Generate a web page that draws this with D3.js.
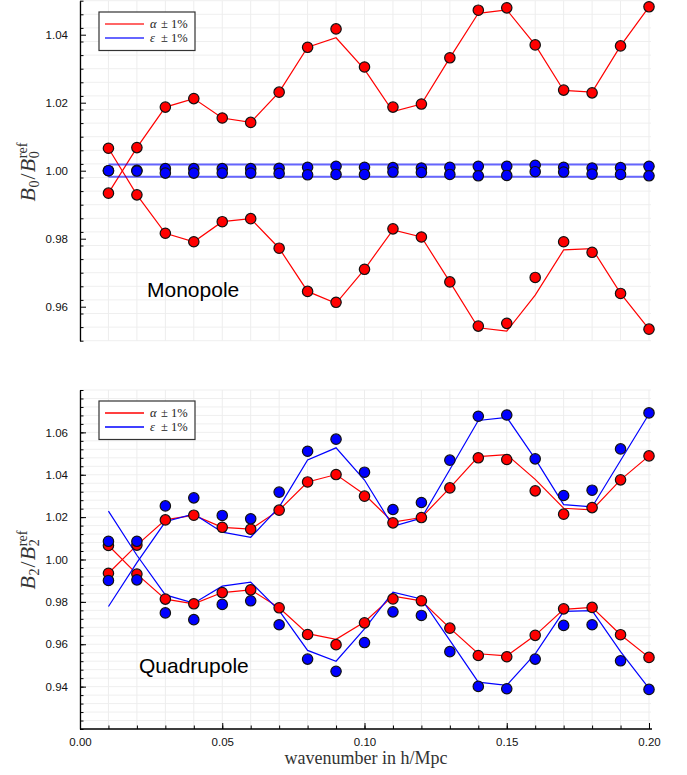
<!DOCTYPE html>
<html>
<head>
<meta charset="utf-8">
<script src="https://cdn.jsdelivr.net/npm/d3@7"></script>
<style>
  body { margin: 0; background: #fff; }
  .tick text { font-family: "Liberation Sans", Arial, sans-serif; font-size: 11.5px; fill: #111; }
  .axis path, .axis line { stroke: #000; }
</style>
</head>
<body>
<script>
// wavenumbers (h/Mpc)
var k = [0.01, 0.02, 0.03, 0.04, 0.05, 0.06, 0.07, 0.08, 0.09, 0.10,
         0.11, 0.12, 0.13, 0.14, 0.15, 0.16, 0.17, 0.18, 0.19, 0.20];

// monopole: alpha +/- 1% (points and model lines)
var monoAlphaUpPts  = [0.9934, 1.0068, 1.0187, 1.0212, 1.0155, 1.0142, 1.0231, 1.0363, 1.0417, 1.0305,
                       1.0187, 1.0196, 1.0332, 1.0472, 1.0479, 1.0370, 1.0237, 1.0229, 1.0367, 1.0482];
var monoAlphaUpLine = [0.9934, 1.0068, 1.0187, 1.0212, 1.0155, 1.0142, 1.0231, 1.0363, 1.0391, 1.0298,
                       1.0174, 1.0196, 1.0332, 1.0463, 1.0473, 1.0370, 1.0236, 1.0231, 1.0367, 1.0482];
var monoAlphaDnPts  = [1.0066, 0.9929, 0.9816, 0.9791, 0.9850, 0.9859, 0.9772, 0.9645, 0.9613, 0.9710,
                       0.9829, 0.9805, 0.9673, 0.9543, 0.9551, 0.9686, 0.9791, 0.9760, 0.9639, 0.9534];
var monoAlphaDnLine = [1.0066, 0.9929, 0.9816, 0.9791, 0.9850, 0.9859, 0.9772, 0.9645, 0.9610, 0.9710,
                       0.9826, 0.9805, 0.9673, 0.9538, 0.9528, 0.9634, 0.9767, 0.9771, 0.9639, 0.9534];
// monopole: epsilon +/- 1%
var monoEpsUpPts  = [1.0000, 1.0001, 1.0006, 1.0006, 1.0006, 1.0006, 1.0007, 1.0010, 1.0013, 1.0010,
                     1.0009, 1.0008, 1.0010, 1.0013, 1.0013, 1.0016, 1.0010, 1.0008, 1.0009, 1.0013];
var monoEpsDnPts  = [1.0000, 0.9999, 0.9993, 0.9993, 0.9993, 0.9993, 0.9992, 0.9988, 0.9989, 0.9989,
                     0.9996, 0.9995, 0.9989, 0.9985, 0.9986, 0.9997, 0.9996, 0.9990, 0.9989, 0.9985];
var monoEpsUpLine = [1.0018, 1.0018, 1.0018, 1.0018, 1.0018, 1.0018, 1.0018, 1.0018, 1.0018, 1.0018,
                     1.0018, 1.0018, 1.0018, 1.0018, 1.0018, 1.0018, 1.0018, 1.0018, 1.0018, 1.0018];
var monoEpsDnLine = [0.9982, 0.9982, 0.9982, 0.9982, 0.9982, 0.9982, 0.9982, 0.9982, 0.9982, 0.9982,
                     0.9982, 0.9982, 0.9982, 0.9982, 0.9982, 0.9982, 0.9982, 0.9982, 0.9982, 0.9982];

// quadrupole: alpha +/- 1%
var quadAlphaUpPts  = [0.9935, 1.0068, 1.0187, 1.0209, 1.0152, 1.0143, 1.0233, 1.0366, 1.0401, 1.0299,
                       1.0173, 1.0198, 1.0338, 1.0480, 1.0472, 1.0324, 1.0214, 1.0245, 1.0376, 1.0489];
var quadAlphaUpLine = [0.9935, 1.0068, 1.0187, 1.0209, 1.0152, 1.0143, 1.0233, 1.0366, 1.0401, 1.0307,
                       1.0176, 1.0198, 1.0338, 1.0486, 1.0495, 1.0378, 1.0242, 1.0234, 1.0376, 1.0489];
var quadAlphaDnPts  = [1.0066, 0.9931, 0.9813, 0.9791, 0.9844, 0.9857, 0.9772, 0.9646, 0.9598, 0.9701,
                       0.9814, 0.9805, 0.9676, 0.9547, 0.9541, 0.9642, 0.9767, 0.9774, 0.9645, 0.9538];
var quadAlphaDnLine = [1.0066, 0.9931, 0.9813, 0.9791, 0.9844, 0.9857, 0.9772, 0.9650, 0.9623, 0.9705,
                       0.9827, 0.9805, 0.9676, 0.9555, 0.9545, 0.9642, 0.9765, 0.9774, 0.9645, 0.9538];
// quadrupole: epsilon +/- 1%
var quadEpsUpPts  = [1.0086, 1.0086, 1.0253, 1.0291, 1.0208, 1.0192, 1.0318, 1.0511, 1.0568, 1.0412,
                     1.0236, 1.0269, 1.0469, 1.0676, 1.0682, 1.0475, 1.0302, 1.0327, 1.0522, 1.0692];
var quadEpsDnPts  = [0.9901, 0.9904, 0.9748, 0.9716, 0.9788, 0.9805, 0.9692, 0.9530, 0.9472, 0.9608,
                     0.9753, 0.9736, 0.9565, 0.9401, 0.9390, 0.9530, 0.9689, 0.9692, 0.9522, 0.9387];
var quadEpsUpLine = [0.9778, 0.9985, 1.0178, 1.0215, 1.0129, 1.0105, 1.0247, 1.0470, 1.0527, 1.0375,
                     1.0157, 1.0195, 1.0425, 1.0656, 1.0671, 1.0475, 1.0259, 1.0248, 1.0467, 1.0687];
var quadEpsDnLine = [1.0228, 1.0020, 0.9833, 0.9794, 0.9874, 0.9893, 0.9759, 0.9571, 0.9520, 0.9673,
                     0.9846, 0.9814, 0.9618, 0.9421, 0.9406, 0.9555, 0.9755, 0.9759, 0.9565, 0.9392];

// tick labels
var xTicks = [0.00, 0.05, 0.10, 0.15, 0.20];
var monoYTicks = [0.96, 0.98, 1.00, 1.02, 1.04];
var quadYTicks = [0.94, 0.96, 0.98, 1.00, 1.02, 1.04, 1.06];

var serif = "'Liberation Serif', 'Times New Roman', serif";

var svg = d3.select("body").append("svg")
    .attr("width", 687)
    .attr("height", 775);

var x = d3.scaleLinear().domain([0, 0.2]).range([80, 649]);

// minor x grid every 0.01
var xGrid = d3.range(0, 21).map(function(i) { return +(i * 0.01).toFixed(2); });

function pairs(vals) {
    return vals.map(function(v, i) { return [k[i], v]; });
}

// put a run of text pieces one after another (used for the rotated y label)
function textRun(g, pieces, size) {
    var cx = 0;
    var supX = 0;
    pieces.forEach(function(pc) {
        var t = g.append("text")
            .attr("y", pc.dy || 0)
            .style("font-family", serif)
            .style("font-size", (pc.small ? size * 0.65 : size) + "px")
            .style("font-style", pc.italic ? "italic" : "normal")
            .style("fill", "#333")
            .text(pc.s);
        if (pc.under) {
            t.attr("x", supX);
        } else {
            t.attr("x", cx);
            supX = cx;
            cx += t.node().getComputedTextLength() + (pc.gap || 0);
        }
    });
    return cx;
}

function drawPanel(p) {
    var y = d3.scaleLinear().domain(p.domain).range(p.range);
    var g = svg.append("g");

    // grid
    var n = Math.round((p.domain[1] - p.domain[0]) / 0.004);
    var yGrid = d3.range(0, n + 1).map(function(i) { return p.domain[0] + i * 0.004; });
    g.selectAll(".hg").data(yGrid).enter().append("line")
        .attr("x1", 80).attr("x2", 651)
        .attr("y1", function(d) { return y(d); })
        .attr("y2", function(d) { return y(d); })
        .style("stroke", "#efefef");
    g.selectAll(".vg").data(xGrid).enter().append("line")
        .attr("x1", function(d) { return x(d); })
        .attr("x2", function(d) { return x(d); })
        .attr("y1", p.range[0]).attr("y2", p.range[1])
        .style("stroke", "#ededed");

    // minor y ticks
    g.append("g")
        .attr("class", "axis")
        .attr("transform", "translate(80,0)")
        .call(d3.axisLeft(y).tickValues(yGrid).tickSizeInner(-3.5).tickSizeOuter(0).tickFormat(""))
        .select(".domain").remove();

    // major y ticks and labels
    g.append("g")
        .attr("class", "axis")
        .attr("transform", "translate(80,0)")
        .call(d3.axisLeft(y).tickValues(p.yTicks).tickSizeInner(-6).tickSizeOuter(0)
            .tickPadding(12).tickFormat(d3.format(".2f")))
        .select(".domain").style("stroke-width", 1.3);

    var line = d3.line()
        .x(function(d) { return x(d[0]); })
        .y(function(d) { return y(d[1]); });

    // model lines
    p.lines.forEach(function(l) {
        g.append("path")
            .datum(pairs(l.values))
            .attr("d", line)
            .style("fill", "none")
            .style("stroke", l.color)
            .style("stroke-width", l.width)
            .style("stroke-opacity", l.opacity);
    });

    // points
    p.points.forEach(function(s) {
        g.selectAll(null).data(pairs(s.values)).enter().append("circle")
            .attr("cx", function(d) { return x(d[0]); })
            .attr("cy", function(d) { return y(d[1]); })
            .attr("r", 5.2)
            .style("fill", s.color)
            .style("stroke", "#111")
            .style("stroke-width", 1.2);
    });

    // legend
    var lg = g.append("g").attr("transform", "translate(99," + p.legendTop + ")");
    lg.append("rect")
        .attr("width", 96).attr("height", 38.5)
        .style("fill", "#fff").style("stroke", "#333").style("stroke-width", 1.2);
    var entries = [
        {sym: "\u03b1", color: "#ff0000", dy: 12},
        {sym: "\u03b5", color: "#0000ff", dy: 26}
    ];
    entries.forEach(function(e) {
        lg.append("line")
            .attr("x1", 6).attr("x2", 45)
            .attr("y1", e.dy).attr("y2", e.dy)
            .style("stroke", e.color)
            .style("stroke-width", p.legendWidth)
            .style("stroke-opacity", p.legendOpacity);
        var t = lg.append("text")
            .attr("y", e.dy + 4)
            .style("font-family", serif)
            .style("font-size", "12.5px")
            .style("fill", "#222");
        t.append("tspan").attr("x", 51).style("font-style", "italic").text(e.sym);
        t.append("tspan").attr("x", 62).text("\u00b1 1%");
    });

    // panel name
    g.append("text")
        .attr("x", p.nameX).attr("y", p.nameY)
        .style("font-family", "'Liberation Sans', Arial, sans-serif")
        .style("font-size", "21px")
        .style("fill", "#000")
        .text(p.name);

    // y label  B_l / B_l^ref
    var yl = g.append("g");
    var w = textRun(yl, [
        {s: "B", italic: true, gap: 0.5},
        {s: p.ell, small: true, dy: 4, gap: 1},
        {s: "/", gap: 1},
        {s: "B", italic: true, gap: 0.5},
        {s: "ref", small: true, dy: -8},
        {s: p.ell, small: true, dy: 4, under: true}
    ], 22);
    yl.attr("transform", "translate(35," + (p.labelY + w / 2) + ") rotate(-90)");

    return y;
}

drawPanel({
    domain: [0.95, 1.05], range: [340.7, 0.7],
    yTicks: monoYTicks, legendTop: 12, legendWidth: 2.2, legendOpacity: 0.6,
    name: "Monopole", nameX: 147, nameY: 297, labelY: 172, ell: "0",
    lines: [
        {values: monoAlphaUpLine, color: "red", width: 1.2, opacity: 1},
        {values: monoAlphaDnLine, color: "red", width: 1.2, opacity: 1},
        {values: monoEpsUpLine, color: "blue", width: 2, opacity: 0.6},
        {values: monoEpsDnLine, color: "blue", width: 2, opacity: 0.6}
    ],
    points: [
        {values: monoAlphaUpPts, color: "red"},
        {values: monoAlphaDnPts, color: "red"},
        {values: monoEpsUpPts, color: "blue"},
        {values: monoEpsDnPts, color: "blue"}
    ]
});

drawPanel({
    domain: [0.92, 1.08], range: [729, 390],
    yTicks: quadYTicks, legendTop: 401, legendWidth: 1.4, legendOpacity: 1,
    name: "Quadrupole", nameX: 139, nameY: 673, labelY: 560, ell: "2",
    lines: [
        {values: quadAlphaUpLine, color: "red", width: 1.2, opacity: 1},
        {values: quadAlphaDnLine, color: "red", width: 1.2, opacity: 1},
        {values: quadEpsUpLine, color: "blue", width: 1.2, opacity: 1},
        {values: quadEpsDnLine, color: "blue", width: 1.2, opacity: 1}
    ],
    points: [
        {values: quadAlphaUpPts, color: "red"},
        {values: quadAlphaDnPts, color: "red"},
        {values: quadEpsUpPts, color: "blue"},
        {values: quadEpsDnPts, color: "blue"}
    ]
});

// x axis, bottom panel only
var xMinor = svg.append("g")
    .attr("class", "axis")
    .attr("transform", "translate(0,729)")
    .call(d3.axisBottom(x).tickValues(xGrid).tickSizeInner(-3.5).tickSizeOuter(0).tickFormat(""));
xMinor.select(".domain").remove();

var xAxis = svg.append("g")
    .attr("class", "axis")
    .attr("transform", "translate(0,729)")
    .call(d3.axisBottom(x).tickValues(xTicks).tickSizeInner(-6).tickSizeOuter(0)
        .tickPadding(9).tickFormat(d3.format(".2f")));
xAxis.select(".domain").attr("d", "M80,0H652").style("stroke-width", 1.3);

svg.append("text")
    .attr("x", 366).attr("y", 764)
    .attr("text-anchor", "middle")
    .style("font-family", serif)
    .style("font-size", "18px")
    .style("fill", "#333")
    .text("wavenumber in h/Mpc");
</script>
</body>
</html>
